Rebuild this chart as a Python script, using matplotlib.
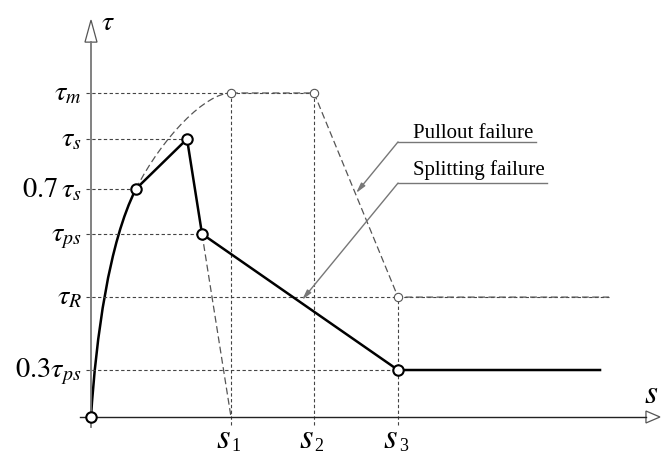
import matplotlib
matplotlib.use('Agg')
import matplotlib.pyplot as plt
from matplotlib.path import Path
from matplotlib.patches import PathPatch, Polygon

plt.rcParams['mathtext.fontset'] = 'stix'
plt.rcParams['font.family'] = 'Liberation Serif'

# slip values, normalised so that s1 = 1
s_07 = 0.321
s_peak = 0.686
s_ps = 0.793
s1, s2, s3 = 1.0, 1.593, 2.193
s_end = 3.636
s_R_end = 3.70

# bond stress levels, normalised so that tau_m = 1
tau_m = 1.0
tau_s = 0.858
tau_07s = 0.704
tau_ps = 0.565
tau_R = 0.370
tau_03ps = 0.145

tau_levels = [tau_m, tau_s, tau_07s, tau_ps, tau_R, tau_03ps]
tau_labels = [r'$\tau_m$', r'$\tau_s$', r'$0.7\,\tau_s$', r'$\tau_{ps}$',
              r'$\tau_R$', r'$0.3\tau_{ps}$']
# how far each horizontal guide runs
tau_guide_end = [s2, s_peak, s_07, s_ps, s_R_end, s3]

s_ticks = [s1, s2, s3]
s_labels = ['1', '2', '3']
# vertical guides start from these levels
s_guide_top = [tau_m, tau_m, tau_R]

# ascending branch (bezier control points)
rise_solid = [(0.0, 0.0), (0.036, 0.247), (0.129, 0.540), (s_07, tau_07s)]
rise_dashed = [(s_07, tau_07s), (0.514, 0.867), (0.821, tau_m), (s1, tau_m)]

# splitting failure branch
split_s = [s_07, s_peak, s_ps, s3, s_end]
split_tau = [tau_07s, tau_s, tau_ps, tau_03ps, tau_03ps]

# pullout failure branch
pull_s = [s1, s2, s3, s_R_end]
pull_tau = [tau_m, tau_m, tau_R, tau_R]

# unloading line after splitting
unload_s = [s_ps, s1]
unload_tau = [tau_ps, 0.0]

fig = plt.figure(figsize=(6.62, 4.55), dpi=100)
ax = fig.add_axes([0, 0, 1, 1])
ax.set_xlim(-0.65, 4.0786)
ax.set_ylim(-0.1173, 1.2870)
ax.axis('off')

guide = dict(color='#444444', lw=0.8, dashes=(3.0, 2.2))
for lev, xe in zip(tau_levels, tau_guide_end):
    ax.plot([-0.036, xe], [lev, lev], **guide)
for x, yt in zip(s_ticks, s_guide_top):
    ax.plot([x, x], [-0.025, yt], **guide)

# axes with open arrow heads
ax.plot([-0.079, 3.964], [0, 0], color='#222222', lw=1.0)
ax.add_patch(Polygon([(3.964, -0.0185), (4.064, 0), (3.964, 0.0185)],
                     closed=True, fc='white', ec='#555555', lw=0.9))
ax.plot([0, 0], [-0.031, 1.157], color='#777777', lw=1.3)
ax.add_patch(Polygon([(-0.043, 1.157), (0, 1.225), (0.043, 1.157)],
                     closed=True, fc='white', ec='#555555', lw=0.9))

bez = [Path.MOVETO, Path.CURVE4, Path.CURVE4, Path.CURVE4]
dash_style = dict(color='#555555', lw=0.9, dashes=(5.5, 2.8))

ax.add_patch(PathPatch(Path(rise_dashed, bez), fill=False, ec='#555555',
                       lw=0.9, ls=(0, (5.5, 2.8))))
ax.plot(pull_s, pull_tau, **dash_style)
ax.plot(unload_s, unload_tau, **dash_style)

ax.add_patch(PathPatch(Path(rise_solid, bez), fill=False, ec='black', lw=1.8,
                       capstyle='round'))
ax.plot(split_s, split_tau, color='black', lw=1.8, solid_joinstyle='round')

# open circles on the key points
ax.plot(pull_s[:3], pull_tau[:3], 'o', ms=6, mfc='white', mec='#555555', mew=0.8)
ax.plot([0] + split_s[:4], [0] + split_tau[:4], 'o', ms=7.5, mfc='white',
        mec='black', mew=1.5)

# labels on the stress axis
offs = [0.022, 0.022, 0.025, 0.022, 0.022, 0.022]
for lev, lab, o in zip(tau_levels, tau_labels, offs):
    ax.text(-0.064, lev - o, lab, ha='right', va='baseline', fontsize=20.5)

for x, lab in zip(s_ticks, s_labels):
    ax.text(x, -0.096, r'$s$', ha='right', va='baseline', fontsize=25)
    ax.text(x + 0.005, -0.105, lab, ha='left', va='baseline', fontsize=13)

ax.text(0.121, 1.216, r'$\tau$', ha='center', va='center', fontsize=20)
ax.text(4.00, 0.068, r'$s$', ha='center', va='center', fontsize=24)

# leader lines with captions
lead = dict(color='#777777', lw=1.0)
ax.plot([2.193, 3.179], [0.849, 0.849], **lead)
ax.annotate('', xy=(1.893, 0.691), xytext=(2.193, 0.849),
            arrowprops=dict(arrowstyle='-|>,head_length=0.6,head_width=0.15',
                            color='#777777', lw=1.0, shrinkA=0, shrinkB=0))
ax.plot([2.193, 3.257], [0.722, 0.722], **lead)
ax.annotate('', xy=(1.507, 0.361), xytext=(2.193, 0.722),
            arrowprops=dict(arrowstyle='-|>,head_length=0.6,head_width=0.15',
                            color='#777777', lw=1.0, shrinkA=0, shrinkB=0))
ax.text(2.30, 0.861, 'Pullout failure', fontsize=15, va='baseline')
ax.text(2.30, 0.747, 'Splitting failure', fontsize=15, va='baseline')

fig.savefig('out.png', dpi=100)
